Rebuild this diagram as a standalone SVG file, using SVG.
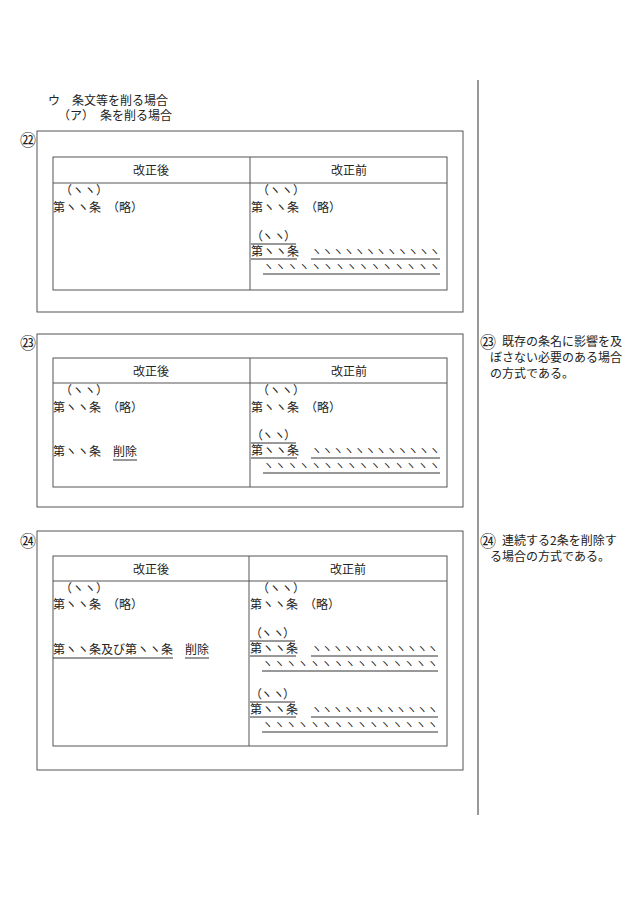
<svg xmlns="http://www.w3.org/2000/svg" width="630" height="915" viewBox="0 0 630 915">
<style>
text{font-family:"Noto Sans CJK JP","Noto Sans CJK SC",sans-serif;font-size:12px;fill:#222}
.h{text-anchor:middle}
.c{font-size:16px}
.k{font-size:11px}
.b{fill:none;stroke:#555;stroke-width:1}
.u{stroke:#333;stroke-width:1}
</style>
<rect width="630" height="915" fill="#fff"/>
<text x="48" y="105">ウ　条文等を削る場合</text>
<text x="58" y="120">（ア）　条を削る場合</text>
<line x1="478" y1="80" x2="478" y2="815" class="u"/>

<g id="box22">
<text x="20" y="146" class="c">㉒</text>
<rect x="37" y="131" width="426" height="181" class="b"/>
<rect x="53" y="157" width="394" height="133" class="b"/>
<line x1="53" y1="183" x2="447" y2="183" class="b"/>
<line x1="250" y1="157" x2="250" y2="290" class="b"/>
<text x="151" y="175" class="h">改正後</text>
<text x="349" y="175" class="h">改正前</text>
<text x="60" y="195">（ヽヽ）</text>
<text x="53" y="212">第ヽヽ条　（略）</text>
<text x="257" y="195">（ヽヽ）</text>
<text x="251" y="212">第ヽヽ条　（略）</text>
<text x="251" y="241" textLength="45">（ヽ ヽ）</text>
<line x1="251" y1="244" x2="296" y2="244" class="u"/>
<text x="251" y="256">第ヽヽ条</text>
<line x1="251" y1="259" x2="297" y2="259" class="u"/>
<text x="311" y="256" class="k" textLength="129" lengthAdjust="spacing">ヽヽヽヽヽヽヽヽヽヽヽヽ</text>
<line x1="311" y1="259" x2="440" y2="259" class="u"/>
<text x="263" y="271" class="k" textLength="177" lengthAdjust="spacing">ヽヽヽヽヽヽヽヽヽヽヽヽヽヽヽ</text>
<line x1="263" y1="274" x2="440" y2="274" class="u"/>
</g>

<g id="box23">
<text x="20" y="349" class="c">㉓</text>
<rect x="37" y="334" width="426" height="173" class="b"/>
<rect x="53" y="358" width="394" height="129" class="b"/>
<line x1="53" y1="383" x2="447" y2="383" class="b"/>
<line x1="250" y1="358" x2="250" y2="487" class="b"/>
<text x="151" y="376" class="h">改正後</text>
<text x="349" y="376" class="h">改正前</text>
<text x="60" y="395">（ヽヽ）</text>
<text x="53" y="412">第ヽヽ条　（略）</text>
<text x="257" y="395">（ヽヽ）</text>
<text x="251" y="412">第ヽヽ条　（略）</text>
<text x="53" y="456">第ヽヽ条　削除</text>
<line x1="113" y1="460" x2="137" y2="460" class="u"/>
<text x="251" y="440" textLength="45">（ヽ ヽ）</text>
<line x1="251" y1="443" x2="296" y2="443" class="u"/>
<text x="251" y="455">第ヽヽ条</text>
<line x1="251" y1="458" x2="297" y2="458" class="u"/>
<text x="311" y="455" class="k" textLength="129" lengthAdjust="spacing">ヽヽヽヽヽヽヽヽヽヽヽヽ</text>
<line x1="311" y1="458" x2="440" y2="458" class="u"/>
<text x="263" y="470" class="k" textLength="177" lengthAdjust="spacing">ヽヽヽヽヽヽヽヽヽヽヽヽヽヽヽ</text>
<line x1="263" y1="473" x2="440" y2="473" class="u"/>
</g>

<g id="box24">
<text x="20" y="547" class="c">㉔</text>
<rect x="37" y="531" width="426" height="239" class="b"/>
<rect x="53" y="556" width="394" height="190" class="b"/>
<line x1="53" y1="581" x2="447" y2="581" class="b"/>
<line x1="249" y1="556" x2="249" y2="746" class="b"/>
<text x="151" y="574" class="h">改正後</text>
<text x="348" y="574" class="h">改正前</text>
<text x="60" y="593">（ヽヽ）</text>
<text x="53" y="609">第ヽヽ条　（略）</text>
<text x="257" y="593">（ヽヽ）</text>
<text x="250" y="609">第ヽヽ条　（略）</text>
<text x="53" y="654">第ヽヽ条及び第ヽヽ条　削除</text>
<line x1="53" y1="658" x2="173" y2="658" class="u"/>
<line x1="185" y1="658" x2="209" y2="658" class="u"/>
<text x="250" y="638" textLength="45">（ヽ ヽ）</text>
<line x1="250" y1="641" x2="295" y2="641" class="u"/>
<text x="250" y="653">第ヽヽ条</text>
<line x1="250" y1="656" x2="296" y2="656" class="u"/>
<text x="311" y="653" class="k" textLength="127" lengthAdjust="spacing">ヽヽヽヽヽヽヽヽヽヽヽヽ</text>
<line x1="311" y1="656" x2="438" y2="656" class="u"/>
<text x="262" y="668" class="k" textLength="176" lengthAdjust="spacing">ヽヽヽヽヽヽヽヽヽヽヽヽヽヽヽ</text>
<line x1="262" y1="671" x2="438" y2="671" class="u"/>
<text x="250" y="699" textLength="45">（ヽ ヽ）</text>
<line x1="250" y1="702" x2="295" y2="702" class="u"/>
<text x="250" y="714">第ヽヽ条</text>
<line x1="250" y1="717" x2="296" y2="717" class="u"/>
<text x="311" y="714" class="k" textLength="127" lengthAdjust="spacing">ヽヽヽヽヽヽヽヽヽヽヽヽ</text>
<line x1="311" y1="717" x2="438" y2="717" class="u"/>
<text x="262" y="729" class="k" textLength="176" lengthAdjust="spacing">ヽヽヽヽヽヽヽヽヽヽヽヽヽヽヽ</text>
<line x1="262" y1="732" x2="438" y2="732" class="u"/>
</g>

<g id="notes">
<text x="480" y="348" class="c">㉓</text>
<text x="502" y="346">既存の条名に影響を及</text>
<text x="490" y="362">ぼさない必要のある場合</text>
<text x="490" y="378">の方式である。</text>
<text x="480" y="547" class="c">㉔</text>
<text x="502" y="545">連続する2条を削除す</text>
<text x="490" y="561">る場合の方式である。</text>
</g>
</svg>
